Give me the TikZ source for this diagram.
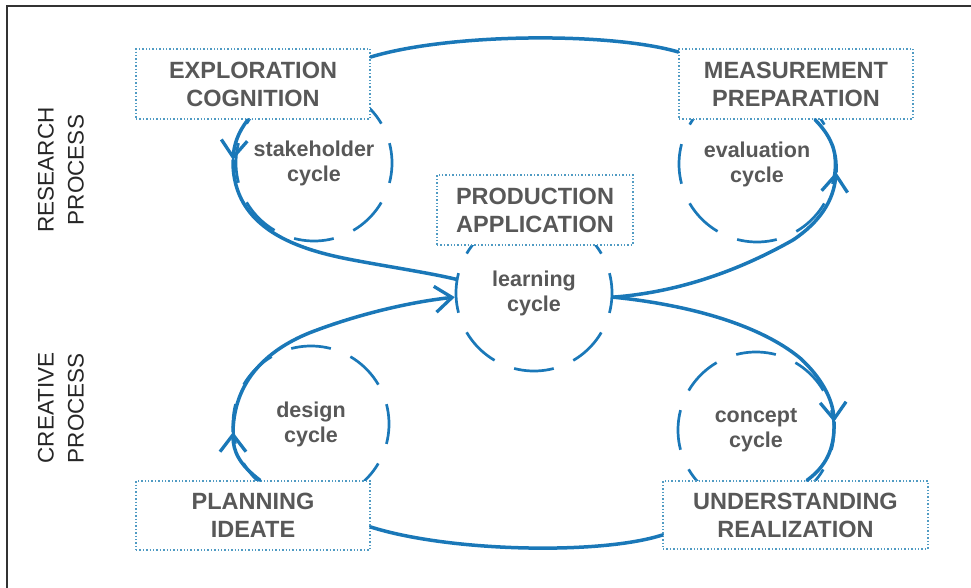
\documentclass[tikz,border=0pt]{standalone}
\usepackage{fontspec}
\setmainfont{Liberation Sans}
\usetikzlibrary{arrows.meta}
\definecolor{flow}{RGB}{26,120,184}
\definecolor{dotline}{RGB}{80,155,195}
\definecolor{labelgray}{RGB}{88,88,88}
\definecolor{framegray}{RGB}{50,50,50}

\begin{document}
\begin{tikzpicture}[x=1pt,y=-1pt,
  stagebox/.style={draw=dotline, dotted, line width=1.4pt, fill=white,
    minimum width=#1, minimum height=70pt, inner sep=0pt, align=center,
    text=labelgray, font=\fontsize{23.5}{28}\selectfont\bfseries},
  cyclenode/.style={circle, draw=flow, line width=2.7pt, minimum size=156pt,
    dash pattern=on 40pt off 21.25pt, dash phase=20pt, inner sep=0pt,
    align=center, text=labelgray, font=\fontsize{21.5}{25}\selectfont\bfseries},
  flowline/.style={draw=flow, line width=3.5pt, line cap=round},
  flowtip/.style={-{Straight Barb[length=17pt,width=26pt,line width=3.3pt]}},
  sidelabel/.style={rotate=90, align=center, text=black!85,
    font=\fontsize{22.5}{30}\selectfont}
]
\useasboundingbox (0,0) rectangle (971,588);

% open frame on the left and top
\draw[framegray, line width=1.5pt] (7,588) -- (7,6) -- (971,6);

% side labels
\node[sidelabel] (research) at (61,170) {RESEARCH\\PROCESS};
\node[sidelabel] (creative) at (61,408) {CREATIVE\\PROCESS};

% dashed cycles
\node[cyclenode] (stake)   at (314,163) {stakeholder\\cycle};
\node[cyclenode] (evalc)   at (757,164) {evaluation\\cycle};
\node[cyclenode] (learn)   at (534,293) {learning\\cycle};
\node[cyclenode] (design)  at (311,424) {design\\cycle};
\node[cyclenode] (concept) at (756,430) {concept\\cycle};

% stage boxes
\node[stagebox=234pt] (expl)  at (253,84)    {EXPLORATION\\COGNITION};
\node[stagebox=234pt] (meas)  at (796,84)    {MEASUREMENT\\PREPARATION};
\node[stagebox=196pt] (prod)  at (535,210)   {PRODUCTION\\APPLICATION};
\node[stagebox=234pt, minimum height=69pt] (plan)  at (253,515.5) {PLANNING\\IDEATE};
\node[stagebox=265pt, minimum height=68pt] (under) at (795.5,515) {UNDERSTANDING\\REALIZATION};

% arrow positions on the cycles
\coordinate (s1) at (233,160);
\coordinate (e1) at (836,172);
\coordinate (c1) at (834,422);
\coordinate (d1) at (233,432);

% top and bottom links between the boxes
\draw[flowline] ([yshift=27pt]expl.east) .. controls (450,33) and (610,32) .. ([yshift=32pt]meas.west);
\draw[flowline] ([yshift=-11.5pt]plan.east) .. controls (450,552) and (600,555) .. ([yshift=-20pt]under.west);

% stakeholder cycle into the learning cycle
\draw[flowline, flowtip] ([xshift=-5pt]expl.south) .. controls (238,132) and (234,145) .. (s1);
\draw[flowline] (s1) .. controls (232,230) and (300,250) .. (353,260)
  .. controls (390,267) and (430,273) .. (learn.170);

% design cycle into the learning cycle
\draw[flowline, flowtip] ([xshift=7pt]plan.north) .. controls (240,465) and (233,452) .. (d1);
\draw[flowline, flowtip] (d1) .. controls (234,375) and (275,345) .. (317,330)
  .. controls (360,314) and (410,302) .. (learn.183);

% learning cycle out to the evaluation cycle
\draw[flowline, flowtip] (learn.-3) .. controls (680,292) and (740,270) .. (793,240)
  .. controls (820,222) and (834,200) .. (e1);
\draw[flowline] (e1) .. controls (837,150) and (830,135) .. ([xshift=19pt]meas.south);

% learning cycle out to the concept cycle
\draw[flowline, flowtip] (learn.-3) .. controls (690,305) and (760,325) .. (800,358)
  .. controls (822,378) and (833,400) .. (c1);
\draw[flowline] (c1) .. controls (835,450) and (825,467) .. ([xshift=11.5pt]under.north);
\end{tikzpicture}
\end{document}
